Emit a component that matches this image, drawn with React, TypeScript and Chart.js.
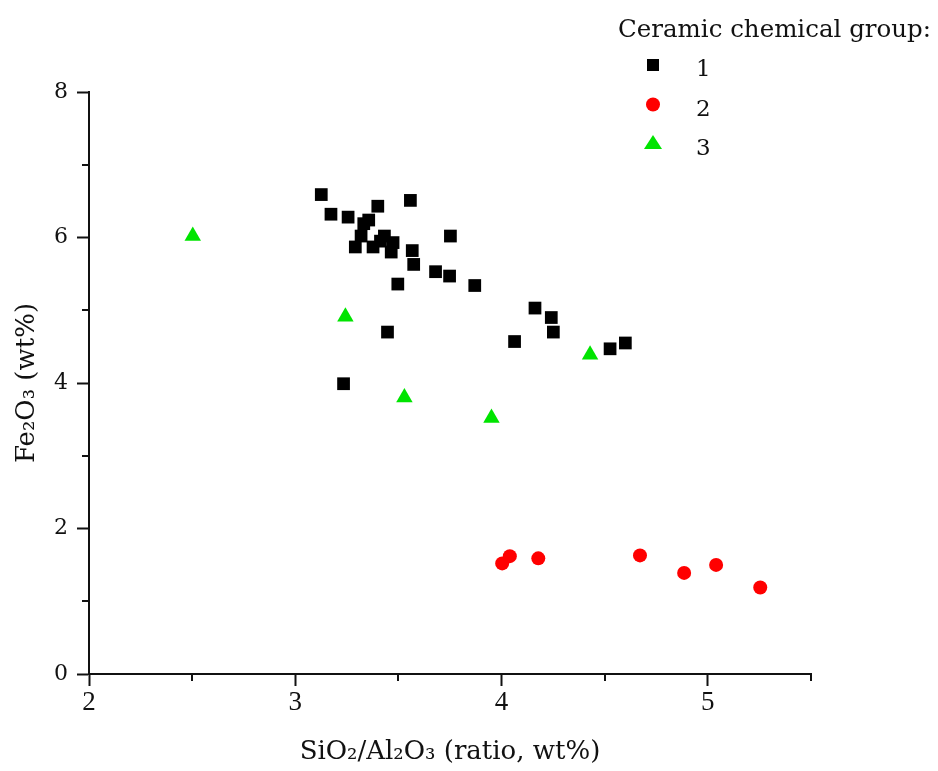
import React, { useEffect, useRef } from 'react';
import { Chart, registerables } from 'chart.js';

Chart.register(...registerables);

// ---- data ----
const group1X = [3.126, 3.173, 3.256, 3.400, 3.558, 3.356, 3.332, 3.319, 3.291, 3.377, 3.432, 3.413, 3.474, 3.465, 3.567, 3.574, 3.680, 3.748, 3.752, 3.497, 3.870, 3.447, 4.162, 4.241, 4.251, 4.063, 4.526, 4.600, 3.234];
const group1Y = [6.59, 6.32, 6.28, 6.43, 6.51, 6.24, 6.19, 6.02, 5.87, 5.87, 6.02, 5.95, 5.93, 5.80, 5.82, 5.63, 5.53, 5.47, 6.02, 5.36, 5.34, 4.70, 5.03, 4.90, 4.70, 4.57, 4.47, 4.55, 3.99];
const group2X = [4.003, 4.040, 4.178, 4.671, 4.885, 5.040, 5.254];
const group2Y = [1.52, 1.62, 1.59, 1.63, 1.39, 1.50, 1.19];
const group3X = [2.503, 3.243, 3.529, 3.951, 4.429];
const group3Y = [6.02, 4.91, 3.80, 3.52, 4.39];

const groupLabels = ['1', '2', '3'];
const legendTitle = 'Ceramic chemical group:';
const xMajorTicks = [2, 3, 4, 5];
const xMinorTicks = [2.5, 3.5, 4.5, 5.5];
const yMajorTicks = [0, 2, 4, 6, 8];
const yMinorTicks = [1, 3, 5, 7];
const xTitle = 'SiO₂/Al₂O₃ (ratio, wt%)';
const yTitle = 'Fe₂O₃ (wt%)';

const AXIS = '#111111';
const SERIF = '"DejaVu Serif", serif';

function toPoints(xs: number[], ys: number[]) {
  return xs.map((x, i) => ({ x, y: ys[i] }));
}

function drawMarker(ctx: CanvasRenderingContext2D, style: string, x: number, y: number, color: string) {
  ctx.save();
  ctx.fillStyle = color;
  ctx.beginPath();
  if (style === 'rect') {
    ctx.rect(x - 6, y - 6, 12, 12);
  } else if (style === 'circle') {
    ctx.arc(x, y, 7, 0, Math.PI * 2);
  } else {
    ctx.moveTo(x, y - 9);
    ctx.lineTo(x + 9, y + 5);
    ctx.lineTo(x - 9, y + 5);
    ctx.closePath();
  }
  ctx.fill();
  ctx.restore();
}

const minorTickPlugin = {
  id: 'minorTicks',
  afterDraw(chart: any) {
    const ctx = chart.ctx as CanvasRenderingContext2D;
    const xs = chart.scales.x;
    const ys = chart.scales.y;
    const area = chart.chartArea;
    ctx.save();
    ctx.strokeStyle = AXIS;
    ctx.lineWidth = 2;
    ctx.beginPath();
    xMinorTicks.forEach((v) => {
      const px = Math.round(xs.getPixelForValue(v));
      ctx.moveTo(px, area.bottom);
      ctx.lineTo(px, area.bottom + 7);
    });
    yMinorTicks.forEach((v) => {
      const py = Math.round(ys.getPixelForValue(v));
      ctx.moveTo(area.left, py);
      ctx.lineTo(area.left - 7, py);
    });
    ctx.stroke();
    ctx.restore();
  },
};

const legendPlugin = {
  id: 'customLegend',
  afterDraw(chart: any) {
    const ctx = chart.ctx as CanvasRenderingContext2D;
    ctx.save();
    ctx.fillStyle = AXIS;
    ctx.textBaseline = 'alphabetic';
    ctx.textAlign = 'left';
    ctx.font = `24.5px ${SERIF}`;
    ctx.fillText(legendTitle, 618, 37);
    ctx.font = `23px ${SERIF}`;
    chart.data.datasets.forEach((ds: any, i: number) => {
      const cy = 65 + i * 39.5;
      drawMarker(ctx, ds.pointStyle, 653, cy, ds.backgroundColor);
      ctx.fillStyle = AXIS;
      ctx.fillText(ds.label, 696, cy + 11);
    });
    ctx.restore();
  },
};

export default function App() {
  const canvasRef = useRef<HTMLCanvasElement | null>(null);

  useEffect(() => {
    document.body.style.margin = '0';
    const canvas = canvasRef.current;
    if (!canvas) return;
    const chart = new Chart(canvas, {
      type: 'scatter',
      data: {
        datasets: [
          {
            label: groupLabels[0],
            data: toPoints(group1X, group1Y),
            pointStyle: 'rect',
            pointRadius: 9,
            backgroundColor: '#000000',
            borderColor: '#000000',
            borderWidth: 0,
          },
          {
            label: groupLabels[1],
            data: toPoints(group2X, group2Y),
            pointStyle: 'circle',
            pointRadius: 7,
            backgroundColor: '#ff0000',
            borderColor: '#ff0000',
            borderWidth: 0,
          },
          {
            label: groupLabels[2],
            data: toPoints(group3X, group3Y),
            pointStyle: 'triangle',
            pointRadius: 9.5,
            backgroundColor: '#00e400',
            borderColor: '#00e400',
            borderWidth: 0,
          },
        ],
      },
      options: {
        responsive: false,
        animation: false,
        events: [],
        layout: { padding: { top: 92, right: 127, left: 0, bottom: 0 } },
        plugins: {
          legend: { display: false },
          tooltip: { enabled: false },
        },
        scales: {
          x: {
            type: 'linear',
            min: 2,
            max: 5.5,
            afterBuildTicks: (scale: any) => {
              scale.ticks = xMajorTicks.map((v) => ({ value: v }));
            },
            afterFit: (scale: any) => {
              scale.height = 97;
            },
            ticks: {
              color: AXIS,
              padding: 1,
              font: { family: '"Liberation Serif", serif', size: 27 },
            },
            grid: {
              display: true,
              drawOnChartArea: false,
              drawTicks: true,
              tickLength: 12,
              tickColor: AXIS,
              tickWidth: 2,
            },
            border: { display: true, color: AXIS, width: 2 },
            title: {
              display: true,
              text: xTitle,
              color: AXIS,
              font: { family: SERIF, size: 26 },
              padding: { top: 0, bottom: 3 },
            },
          },
          y: {
            type: 'linear',
            min: 0,
            max: 8,
            afterBuildTicks: (scale: any) => {
              scale.ticks = yMajorTicks.map((v) => ({ value: v }));
            },
            afterFit: (scale: any) => {
              scale.width = 89;
            },
            ticks: {
              color: AXIS,
              padding: 9,
              font: { family: SERIF, size: 22 },
            },
            grid: {
              display: true,
              drawOnChartArea: false,
              drawTicks: true,
              tickLength: 12,
              tickColor: AXIS,
              tickWidth: 2,
            },
            border: { display: true, color: AXIS, width: 2 },
            title: {
              display: true,
              text: yTitle,
              color: AXIS,
              font: { family: SERIF, size: 26 },
              padding: { top: 12, bottom: 0 },
            },
          },
        },
      },
      plugins: [minorTickPlugin, legendPlugin],
    });
    return () => chart.destroy();
  }, []);

  return (
    <div style={{ width: 938, height: 771, background: '#ffffff' }}>
      <canvas ref={canvasRef} width={938} height={771} />
    </div>
  );
}
